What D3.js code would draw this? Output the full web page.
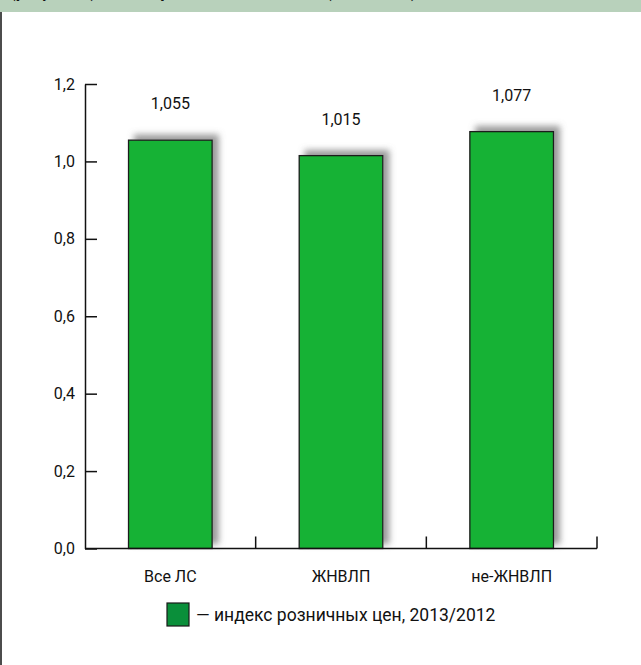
<!DOCTYPE html>
<html><head><meta charset="utf-8">
<script src="https://cdn.jsdelivr.net/npm/d3@7"></script>
<style>
html,body{margin:0;padding:0;background:#fff;}
svg{display:block;}
text{font-family:Roboto,"Noto Sans",sans-serif;fill:#111;}
</style></head>
<body>
<svg id="chart" width="641" height="665"></svg>
<script>
const categories = ["Все ЛС", "ЖНВЛП", "не-ЖНВЛП"];
const values = [1.055, 1.015, 1.077];
const valueLabels = ["1,055", "1,015", "1,077"];
const yTicks = [0, 0.2, 0.4, 0.6, 0.8, 1.0, 1.2];
const seriesName = "— индекс розничных цен, 2013/2012";
const headerText = "(рисунок 3) Индекс розничных цен на ЛС (2013/2012)";

const svg = d3.select("#chart");
const fmt = d => d3.format(".1f")(d).replace(".", ",");

// header band
svg.append("clipPath").attr("id","hclip").append("rect").attr("x",0).attr("y",0).attr("width",641).attr("height",12);
svg.append("rect").attr("x",0).attr("y",0).attr("width",641).attr("height",12).attr("fill","#b8d1bb");
svg.append("text").attr("clip-path","url(#hclip)").attr("x",10).attr("y",-3)
  .style("font-weight","bold").style("font-size","18px").style("font-family","'Liberation Sans Narrow','Roboto Condensed',Roboto,sans-serif")
  .text(headerText);
// left frame line
svg.append("line").attr("x1",1).attr("x2",1).attr("y1",12).attr("y2",665).attr("stroke","#111").attr("stroke-width",1.5);

// shadow filter
const defs = svg.append("defs");
const f = defs.append("filter").attr("id","shadow").attr("x","-20%").attr("y","-20%").attr("width","150%").attr("height","150%");
f.append("feOffset").attr("in","SourceAlpha").attr("dx",6).attr("dy",-5).attr("result","off");
f.append("feGaussianBlur").attr("in","off").attr("stdDeviation",3).attr("result","blur");
f.append("feFlood").attr("flood-color","#7a7a7a").attr("flood-opacity",0.75).attr("result","col");
f.append("feComposite").attr("in","col").attr("in2","blur").attr("operator","in").attr("result","sh");
const m = f.append("feMerge");
m.append("feMergeNode").attr("in","sh");
m.append("feMergeNode").attr("in","SourceGraphic");

const x0 = 85, x1 = 597, yBase = 548.5, yTop = 84;
const x = d3.scaleBand().domain(categories).range([x0, x1]).paddingInner(0.51).paddingOuter(0.255);
const y = d3.scaleLinear().domain([0, 1.2]).range([yBase, yTop]);

// bars
svg.append("g").selectAll("rect").data(values).join("rect")
  .attr("x",(d,i)=>x(categories[i]))
  .attr("y",d=>y(d))
  .attr("width",x.bandwidth())
  .attr("height",d=>yBase-y(d))
  .attr("fill","#14b234")
  .attr("stroke","#1a1a1a").attr("stroke-width",1.3)
  .attr("filter","url(#shadow)");

// value labels
svg.append("g").selectAll("text").data(values).join("text")
  .attr("x",(d,i)=>x(categories[i])+x.bandwidth()/2)
  .attr("y",d=>y(d)-31)
  .attr("text-anchor","middle").style("font-size","16px")
  .text((d,i)=>valueLabels[i]);

// y axis
const yAxis = d3.axisLeft(y).tickValues(yTicks).tickFormat(fmt).tickSizeInner(-12).tickSizeOuter(0).tickPadding(10);
const gy = svg.append("g").attr("transform",`translate(${x0},0)`).call(yAxis);
gy.selectAll("path,line").attr("stroke","#111").attr("stroke-width",1.5);
gy.selectAll("text").style("font-size","16px").style("font-family","Roboto,sans-serif").attr("fill","#111");

// x axis line + boundary ticks
const gx = svg.append("g");
gx.append("line").attr("x1",x0).attr("x2",x1).attr("y1",yBase).attr("y2",yBase).attr("stroke","#111").attr("stroke-width",1.5);
gx.selectAll("line.tk").data(categories).join("line").attr("class","tk")
  .attr("x1",(d,i)=>x0 + x.step()*(i+1)).attr("x2",(d,i)=>x0 + x.step()*(i+1))
  .attr("y1",yBase).attr("y2",yBase-12).attr("stroke","#111").attr("stroke-width",1.5);
gx.selectAll("text").data(categories).join("text")
  .attr("x",d=>x(d)+x.bandwidth()/2).attr("y",yBase+33)
  .attr("text-anchor","middle").style("font-size","16px").text(d=>d);

// legend
const lg = svg.append("g");
lg.append("rect").attr("x",167).attr("y",603).attr("width",22).attr("height",23)
  .attr("fill","#0a8f3a").attr("stroke","#1a1a1a").attr("stroke-width",1.2);
lg.append("text").attr("x",196).attr("y",621).style("font-size","17.5px").text(seriesName);
</script>
</body></html>
